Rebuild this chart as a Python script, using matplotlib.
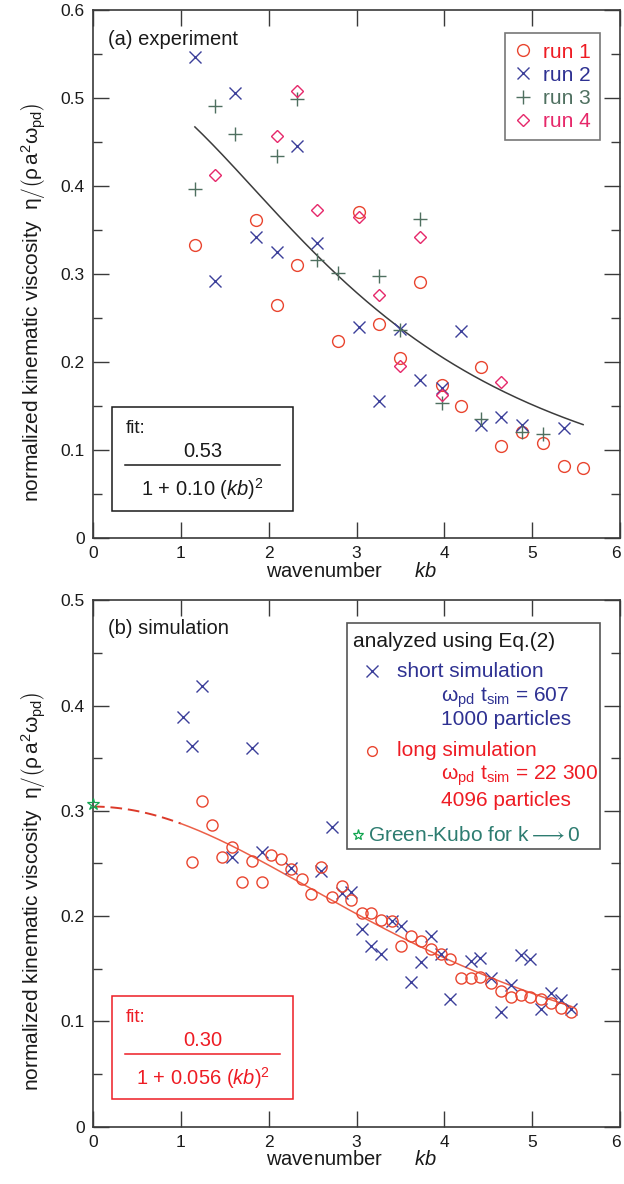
import matplotlib
matplotlib.use('Agg')
import matplotlib.pyplot as plt
from matplotlib.patches import Rectangle
from matplotlib.lines import Line2D
from matplotlib.ticker import MultipleLocator, FuncFormatter
import matplotlib.transforms as mtransforms
import numpy as np

plt.rcParams['font.family'] = ['Liberation Sans', 'DejaVu Sans']
plt.rcParams['mathtext.fontset'] = 'custom'
plt.rcParams['mathtext.rm'] = 'Liberation Sans'
plt.rcParams['mathtext.it'] = 'Liberation Sans:italic'
plt.rcParams['mathtext.bf'] = 'Liberation Sans:bold'

#===================================================================================================
# data

# (a) experiment
run1_kb  = [1.16, 1.86, 2.09, 2.32, 2.79, 3.03, 3.26, 3.49, 3.72, 3.97, 4.19, 4.42, 4.65, 4.88, 5.12, 5.36, 5.58]
run1_eta = [0.333, 0.361, 0.265, 0.310, 0.224, 0.371, 0.243, 0.205, 0.291, 0.174, 0.150, 0.194, 0.105, 0.120, 0.108, 0.082, 0.079]

run2_kb  = [1.16, 1.39, 1.62, 1.86, 2.09, 2.32, 2.55, 3.03, 3.26, 3.49, 3.72, 3.97, 4.19, 4.42, 4.65, 4.88, 5.36]
run2_eta = [0.547, 0.292, 0.506, 0.342, 0.325, 0.445, 0.335, 0.240, 0.156, 0.238, 0.180, 0.170, 0.235, 0.128, 0.137, 0.128, 0.125]

run3_kb  = [1.16, 1.39, 1.62, 2.09, 2.32, 2.55, 2.79, 3.26, 3.49, 3.72, 3.97, 4.42, 4.88, 5.12]
run3_eta = [0.397, 0.491, 0.459, 0.434, 0.499, 0.316, 0.301, 0.298, 0.236, 0.363, 0.153, 0.135, 0.121, 0.118]

run4_kb  = [1.39, 2.09, 2.32, 2.55, 3.03, 3.26, 3.49, 3.72, 3.97, 4.65]
run4_eta = [0.412, 0.457, 0.508, 0.373, 0.365, 0.276, 0.195, 0.342, 0.162, 0.177]

fit_a_amp  = 0.53
fit_a_coef = 0.10
fit_a_range = [1.16, 5.58]

# (b) simulation
short_kb  = [1.019, 1.13, 1.242, 1.58, 1.807, 1.92, 2.258, 2.60, 2.716, 2.83, 2.943, 3.057, 3.17, 3.284,
             3.40, 3.51, 3.62, 3.73, 3.844, 3.958, 4.07, 4.30, 4.41, 4.526, 4.64, 4.754, 4.87, 4.98,
             5.10, 5.21, 5.325, 5.44]
short_eta = [0.389, 0.3615, 0.4185, 0.2564, 0.360, 0.261, 0.2454, 0.243, 0.2843, 0.2216, 0.2232, 0.1877,
             0.1719, 0.1637, 0.1953, 0.191, 0.1377, 0.156, 0.1814, 0.164, 0.121, 0.1574, 0.1605, 0.1415,
             0.109, 0.1346, 0.163, 0.159, 0.1115, 0.1273, 0.1203, 0.1115]

long_kb  = [1.13, 1.242, 1.356, 1.466, 1.58, 1.693, 1.807, 1.92, 2.03, 2.144, 2.258, 2.375, 2.485, 2.60,
            2.716, 2.83, 2.943, 3.057, 3.17, 3.284, 3.40, 3.51, 3.62, 3.73, 3.844, 3.958, 4.07, 4.185,
            4.30, 4.41, 4.526, 4.64, 4.754, 4.87, 4.98, 5.10, 5.21, 5.325, 5.44]
long_eta = [0.251, 0.309, 0.2865, 0.256, 0.266, 0.232, 0.252, 0.232, 0.258, 0.254, 0.245, 0.235, 0.221,
            0.247, 0.218, 0.229, 0.215, 0.203, 0.203, 0.196, 0.195, 0.172, 0.181, 0.176, 0.169, 0.164,
            0.159, 0.141, 0.1415, 0.1425, 0.136, 0.129, 0.1235, 0.125, 0.1235, 0.121, 0.117, 0.113, 0.109]

gk_kb  = [0.0]
gk_eta = [0.306]

fit_b_amp  = 0.304
fit_b_coef = 0.056
fit_b_dash_end = 1.0
fit_b_range = [0.0, 5.44]

#===================================================================================================
# colours

C_RED    = '#e9452f'
C_RED_TX = '#ee1c24'
C_BLUE   = '#3c3f9a'
C_BLUE_TX= '#2e3192'
C_GREEN  = '#4f7060'
C_PINK   = '#e6286a'
C_STAR   = '#12a550'
C_GK_TX  = '#2d7c70'
C_AXIS   = '#3a3a3a'
C_TEXT   = '#1a1a1a'

ylabel_txt = (r'normalized kinematic viscosity  $\mathrm{\eta}\left/\left(\mathrm{\rho}\,'
              r'\mathrm{a}^2\mathrm{\omega}_{\rm pd}\right)\right.$')
omega_t = r'$\mathrm{\omega}_{\rm pd}$ t$_{\rm sim}$'


def style_axes(ax, ymax):
	'''common axis look for both panels'''
	ax.set_xlim(0, 6)
	ax.set_ylim(0, ymax)
	ax.xaxis.set_major_locator(MultipleLocator(1))
	ax.yaxis.set_major_locator(MultipleLocator(0.1))
	ax.yaxis.set_minor_locator(MultipleLocator(0.05))
	ax.yaxis.set_major_formatter(FuncFormatter(lambda v, p: '0' if abs(v) < 1e-9 else f'{v:.1f}'))
	ax.tick_params(which='both', direction='in', top=True, right=True, colors=C_AXIS,
	               labelcolor=C_TEXT, labelsize=12.5, width=1.0)
	ax.tick_params(which='major', length=11.5)
	ax.tick_params(which='minor', length=6.5)
	ax.tick_params(axis='x', pad=6)
	ax.tick_params(axis='y', pad=6)
	for s in ax.spines.values():
		s.set_color(C_AXIS)
		s.set_linewidth(1.2)
	ax.set_xlabel(r'wavenumber      $kb$', fontsize=14.5, color=C_TEXT)
	ax.xaxis.set_label_coords(0.49, -0.045)
	ax.set_ylabel(ylabel_txt, fontsize=15, color=C_TEXT)
	ax.yaxis.set_label_coords(-0.085, 0.447)
	# keep the last x tick label ("6") inside the figure
	ax.set_xticks(range(7))
	last = ax.xaxis.get_major_ticks()[-1].label1
	last.set_transform(last.get_transform() +
	                   mtransforms.ScaledTranslation(-3/72, 0, ax.figure.dpi_scale_trans))


def fit_box(ax, color, num, den):
	'''boxed fraction with the fit formula'''
	ax.add_patch(Rectangle((0.0366, 0.052), 0.342, 0.196, transform=ax.transAxes,
	                       facecolor='none', edgecolor=color, lw=1.1))
	ax.text(0.062, 0.207, 'fit:', transform=ax.transAxes, fontsize=13.5, color=color,
	        ha='left', va='center')
	ax.text(0.208, 0.163, num, transform=ax.transAxes, fontsize=14.5, color=color,
	        ha='center', va='center')
	ax.add_line(Line2D([0.0607, 0.355], [0.138, 0.138], transform=ax.transAxes, color=color, lw=1.1))
	ax.text(0.208, 0.093, den, transform=ax.transAxes, fontsize=14.5, color=color,
	        ha='center', va='center')

#===================================================================================================

fig = plt.figure(figsize=(6.24, 11.84), dpi=100)
ax_a = fig.add_axes([93/624, 1 - 538/1184, 527/624, 528/1184])
ax_b = fig.add_axes([93/624, 1 - 1126.7/1184, 527/624, 526.5/1184])

# ---- (a) experiment ----
style_axes(ax_a, 0.6)

kb_fit = np.linspace(fit_a_range[0], fit_a_range[1], 200)
ax_a.plot(kb_fit, fit_a_amp / (1 + fit_a_coef * kb_fit**2), color='#3c3c3c', lw=1.1)

ax_a.plot(run1_kb, run1_eta, 'o', ms=8.5, mfc='none', mec=C_RED, mew=1.0, label='run 1')
ax_a.plot(run2_kb, run2_eta, 'x', ms=9, mec=C_BLUE, mew=1.0, label='run 2')
ax_a.plot(run3_kb, run3_eta, '+', ms=10, mec=C_GREEN, mew=1.0, label='run 3')
ax_a.plot(run4_kb, run4_eta, 'D', ms=6, mfc='none', mec=C_PINK, mew=1.0, label='run 4')

leg = ax_a.legend(loc='upper right', bbox_to_anchor=(0.962, 0.956), fontsize=15, frameon=True,
                  fancybox=False, edgecolor='#555555', handlelength=0.8, handletextpad=0.55,
                  labelspacing=0.2, borderpad=0.45, borderaxespad=0,
                  labelcolor=[C_RED_TX, C_BLUE_TX, C_GREEN, C_PINK])
leg.get_frame().set_linewidth(1.2)

ax_a.text(0.029, 0.944, '(a) experiment', transform=ax_a.transAxes, fontsize=14.5, color=C_TEXT,
          ha='left', va='center')
fit_box(ax_a, C_TEXT, f'{fit_a_amp:.2f}', r'1 + 0.10 ($kb$)$^2$')

# ---- (b) simulation ----
style_axes(ax_b, 0.5)

kb_dash = np.linspace(fit_b_range[0], fit_b_dash_end, 60)
kb_solid = np.linspace(fit_b_dash_end, fit_b_range[1], 200)
ax_b.plot(kb_dash, fit_b_amp / (1 + fit_b_coef * kb_dash**2), color='#dc3a2a', lw=1.4,
          dashes=(6, 3))
ax_b.plot(kb_solid, fit_b_amp / (1 + fit_b_coef * kb_solid**2), color='#ec6048', lw=1.1)

ax_b.plot(short_kb, short_eta, 'x', ms=8, mec=C_BLUE, mew=1.0)
ax_b.plot(long_kb, long_eta, 'o', ms=8, mfc='none', mec=C_RED, mew=1.0)
ax_b.plot(gk_kb, gk_eta, '*', ms=9, mfc='none', mec=C_STAR, mew=0.9, clip_on=False, zorder=5)

ax_b.text(0.029, 0.946, '(b) simulation', transform=ax_b.transAxes, fontsize=14.5, color=C_TEXT,
          ha='left', va='center')
fit_box(ax_b, C_RED_TX, '0.30', r'1 + 0.056 ($kb$)$^2$')

# ---- legend of (b), drawn by hand ----
T = ax_b.transAxes
ax_b.add_patch(Rectangle((0.4826, 0.527), 0.4794, 0.429, transform=T, facecolor='white',
                         edgecolor='#555555', lw=1.2, zorder=3))
lg = dict(transform=T, fontsize=15, ha='left', va='center', zorder=4)
ax_b.text(0.493, 0.921, 'analyzed using Eq.(2)', color=C_TEXT, **lg)
ax_b.plot([0.530], [0.8655], 'x', ms=8, mec=C_BLUE, mew=1.0, transform=T, zorder=4)
ax_b.text(0.576, 0.8655, 'short simulation', color=C_BLUE_TX, **lg)
ax_b.text(0.660, 0.815, omega_t + ' = 607', color=C_BLUE_TX, **lg)
ax_b.text(0.660, 0.7725, '1000 particles', color=C_BLUE_TX, **lg)
ax_b.plot([0.530], [0.7136], 'o', ms=7, mfc='none', mec=C_RED, mew=1.0, transform=T, zorder=4)
ax_b.text(0.576, 0.7136, 'long simulation', color=C_RED_TX, **lg)
ax_b.text(0.660, 0.667, omega_t + ' = 22 300', color=C_RED_TX, **lg)
ax_b.text(0.660, 0.619, '4096 particles', color=C_RED_TX, **lg)
ax_b.plot([0.503], [0.554], '*', ms=8, mfc='none', mec=C_STAR, mew=0.9, transform=T, zorder=4)
ax_b.text(0.522, 0.554, r'Green-Kubo for k$\longrightarrow$0', color=C_GK_TX, **lg)

fig.savefig('out.png', dpi=100)
